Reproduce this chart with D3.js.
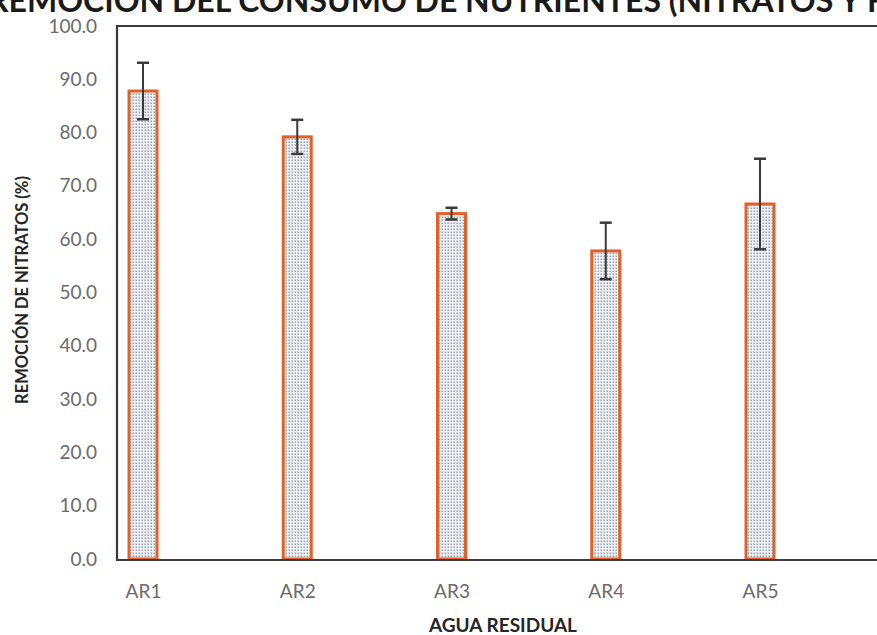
<!DOCTYPE html>
<html><head><meta charset="utf-8">
<script src="https://cdn.jsdelivr.net/npm/d3@7"></script>
<style>
html,body{margin:0;padding:0;background:#fff;overflow:hidden;}
svg{display:block;}
</style></head>
<body>
<svg id="chart" width="877" height="635"></svg>
<script>
const categories = ["AR1", "AR2", "AR3", "AR4", "AR5"];
const values = [87.8, 79.2, 64.8, 57.8, 66.6];
const errors = [5.3, 3.2, 1.1, 5.3, 8.5];
const yTicks = [0, 10, 20, 30, 40, 50, 60, 70, 80, 90, 100];
const titleText = "REMOCIÓN DEL CONSUMO DE NUTRIENTES (NITRATOS Y FOSFATOS)";
const yTitle = "REMOCIÓN DE NITRATOS (%)";
const xTitle = "AGUA RESIDUAL";

(function () {
const svg = d3.select("#chart");
const font = "Lato, 'Open Sans', sans-serif";
const pLeft = 117, pTop = 26, pBottom = 560, pRight = 900;

const defs = svg.append("defs");
const pat = defs.append("pattern").attr("id", "dots")
  .attr("patternUnits", "userSpaceOnUse").attr("width", 3).attr("height", 3);
pat.append("rect").attr("width", 3).attr("height", 3).attr("fill", "#eef2f7");
pat.append("rect").attr("x", 0.5).attr("y", 0.5).attr("width", 1.5).attr("height", 1.5).attr("fill", "#9aa3ad");

const y = d3.scaleLinear().domain([0, 100]).range([559, 26]);
const x = d3.scalePoint().domain(categories).range([143, 760]);

// title (cropped at top)
svg.append("text").attr("x", -12).attr("y", 12)
  .attr("font-family", font).attr("font-weight", "bold").attr("font-size", 32)
  .attr("fill", "#1a1a1a").text(titleText);

// bars
const data = categories.map((c, i) => ({c, v: values[i], e: errors[i]}));
const bw = 28;
svg.selectAll("rect.bar").data(data).enter().append("rect").attr("class", "bar")
  .attr("x", d => x(d.c) - bw / 2).attr("y", d => y(d.v))
  .attr("width", bw).attr("height", d => y(0) - y(d.v))
  .attr("fill", "url(#dots)").attr("stroke", "#e2612a").attr("stroke-width", 3);

// error bars
const eg = svg.selectAll("g.err").data(data).enter().append("g").attr("class", "err")
  .attr("stroke", "#3a3a3a").attr("stroke-width", 2);
eg.append("line").attr("x1", d => x(d.c)).attr("x2", d => x(d.c))
  .attr("y1", d => y(d.v + d.e)).attr("y2", d => y(d.v - d.e));
eg.append("line").attr("x1", d => x(d.c) - 6).attr("x2", d => x(d.c) + 6)
  .attr("y1", d => y(d.v + d.e)).attr("y2", d => y(d.v + d.e)).attr("stroke-width", 2.5);
eg.append("line").attr("x1", d => x(d.c) - 6).attr("x2", d => x(d.c) + 6)
  .attr("y1", d => y(d.v - d.e)).attr("y2", d => y(d.v - d.e)).attr("stroke-width", 2.5);

// frame
svg.append("path").attr("d", `M${pRight},${pTop}H${pLeft}V${pBottom}H${pRight}`)
  .attr("fill", "none").attr("stroke", "#3a3a3a").attr("stroke-width", 2.2);

// y axis labels
const yAxis = d3.axisLeft(y).tickValues(yTicks).tickFormat(d3.format(".1f")).tickSize(0).tickPadding(0);
const ya = svg.append("g").attr("transform", "translate(97,0)").call(yAxis);
ya.select(".domain").remove();
ya.selectAll("text").attr("font-family", font).attr("font-size", 19).attr("fill", "#6b6b6b");

// x axis labels
const xAxis = d3.axisBottom(x).tickSize(0).tickPadding(0);
const xa = svg.append("g").attr("transform", "translate(0,584)").call(xAxis);
xa.select(".domain").remove();
xa.selectAll("text").attr("font-family", font).attr("font-size", 19).attr("fill", "#6b6b6b");

// axis titles
svg.append("text").attr("transform", "translate(28,290) rotate(-90)")
  .attr("text-anchor", "middle").attr("font-family", font).attr("font-weight", "bold")
  .attr("font-size", 16.5).attr("fill", "#262626").text(yTitle);
svg.append("text").attr("x", 503).attr("y", 632).attr("text-anchor", "middle")
  .attr("font-family", font).attr("font-weight", "bold").attr("font-size", 19)
  .attr("fill", "#262626").text(xTitle);
})();
</script>
</body></html>
